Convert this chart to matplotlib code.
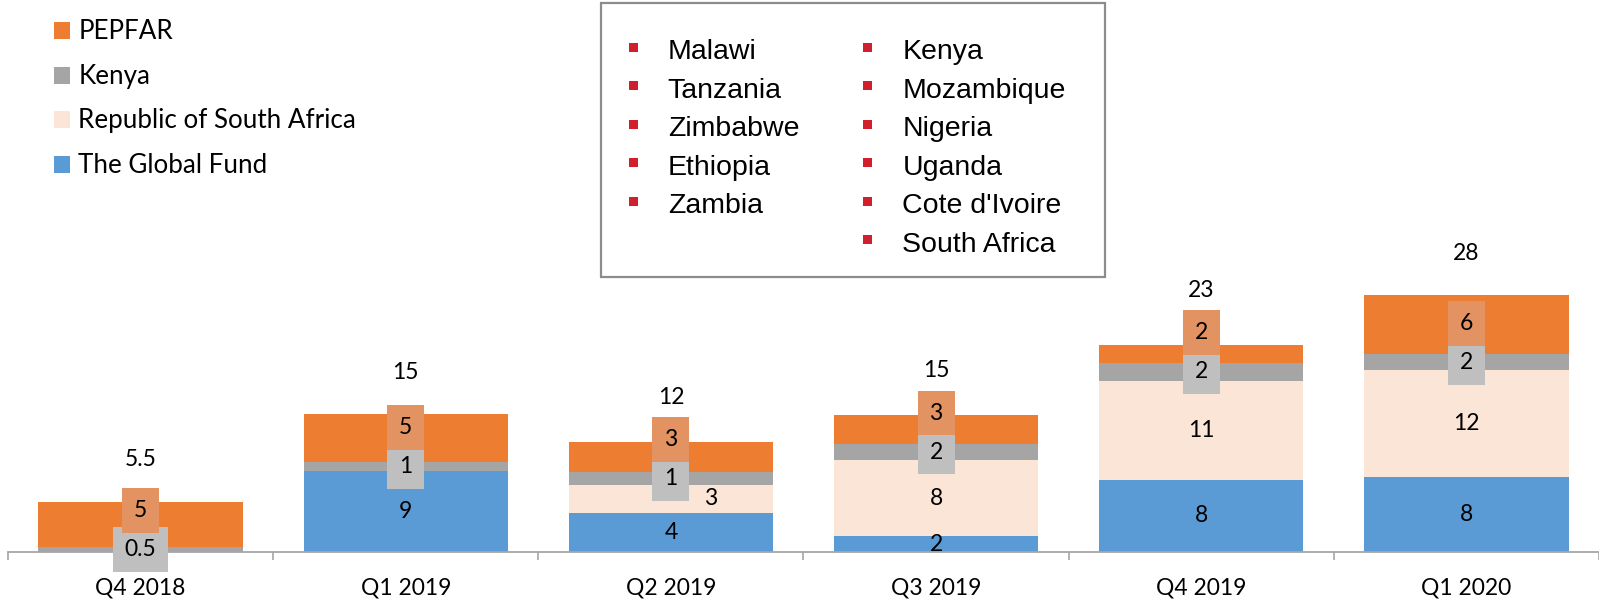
import matplotlib
matplotlib.use('Agg')
import matplotlib.pyplot as plt
from matplotlib.patches import Rectangle
import numpy as np

# ---------------- data ----------------
quarters = ['Q4 2018', 'Q1 2019', 'Q2 2019', 'Q3 2019', 'Q4 2019', 'Q1 2020']
global_fund = [0, 8.8, 4.3, 1.7, 7.9, 8.2]
south_africa = [0, 0, 3.0, 8.3, 10.8, 11.6]
kenya = [0.5, 1.0, 1.4, 1.8, 1.9, 1.8]
pepfar = [5.0, 5.2, 3.3, 3.1, 2.0, 6.4]
series_names = ['The Global Fund', 'Republic of South Africa', 'Kenya', 'PEPFAR']
series_colors = ['#5B9BD5', '#FBE5D6', '#A5A5A5', '#ED7D31']
countries_col1 = ['Malawi', 'Tanzania', 'Zimbabwe', 'Ethiopia', 'Zambia']
countries_col2 = ['Kenya', 'Mozambique', 'Nigeria', 'Uganda', "Cote d'Ivoire", 'South Africa']

# ---------------- layout ----------------
W, H = 1599, 600
fig = plt.figure(figsize=(W / 100, H / 100), dpi=100)
AX_L, AX_B, AX_T = 8, 48, 600
ax = fig.add_axes([AX_L / W, AX_B / H, (W - AX_L) / W, (AX_T - AX_B) / H])
YMAX = 60.2
ax.set_ylim(0, YMAX)
ax.set_xlim(-0.5, len(quarters) - 0.5)
U = (AX_T - AX_B) / YMAX  # px per data unit

FONT = 'Lato'
FS = 16.5

x = np.arange(len(quarters))
series = [global_fund, south_africa, kenya, pepfar]
bottom = np.zeros(len(x))
for vals, c in zip(series, series_colors):
    ax.bar(x, vals, 0.77, bottom=bottom, color=c, edgecolor='none', zorder=2)
    bottom = bottom + np.array(vals, dtype=float)
totals = bottom


def fmt(v):
    return f"{v:.1f}" if v < 1 else f"{v:.0f}"


def fmt_total(t):
    return f"{t:.1f}" if t < 10 else f"{t:.0f}"


box_h = 41 / U
tkw = dict(ha='center', va='center', fontsize=FS, family=FONT, color='black', zorder=5)
for i in range(len(quarters)):
    gf, sa, ke, pe = global_fund[i], south_africa[i], kenya[i], pepfar[i]
    if gf > 0:
        ax.text(i, gf / 2, fmt(gf), **tkw)
    ke_y = gf + sa + ke / 2
    if sa > 0:
        sa_y = gf + sa / 2
        dx = 0.15 if abs(sa_y - ke_y) < (20 + 12) / U else 0
        ax.text(i + dx, sa_y, fmt(sa), **tkw)
    ax.text(i, ke_y, fmt(ke), bbox=dict(boxstyle='square,pad=0.52', fc='#BFBFBF', ec='none'), **tkw)
    pe_y = max(gf + sa + ke + pe / 2, ke_y + 39 / U)
    ax.text(i, pe_y, fmt(pe), bbox=dict(boxstyle='square,pad=0.52', fc='#E39262', ec='none'), **tkw)
    tot_y = max(totals[i] + 42 / U, pe_y + box_h / 2 + 22 / U)
    ax.text(i, tot_y, fmt_total(totals[i]), **tkw)

for s in ['left', 'right', 'top']:
    ax.spines[s].set_visible(False)
ax.spines['bottom'].set_color('#A6A6A6')
ax.spines['bottom'].set_linewidth(1.3)
ax.set_yticks([])
ax.set_xticks(x)
ax.set_xticklabels(quarters, fontsize=FS, family=FONT)
ax.tick_params(axis='x', which='major', length=0, pad=18)
ax.set_xticks(np.arange(-0.5, len(quarters)), minor=True)
ax.tick_params(axis='x', which='minor', length=6, width=1.2, color='#A6A6A6', direction='out')


def fy(ypx):
    return 1 - ypx / H


# ---------------- left legend ----------------
leg_baselines = [39.3, 83.8, 128.3, 172.8]
for k, idx in enumerate([3, 2, 1, 0]):
    b = leg_baselines[k]
    fig.add_artist(Rectangle((54 / W, fy(b)), 16 / W, 17 / H, transform=fig.transFigure,
                             fc=series_colors[idx], ec='none'))
    fig.text(78.5 / W, fy(b), series_names[idx], fontsize=18.7, family=FONT, va='baseline', ha='left')

# ---------------- country box ----------------
fig.add_artist(Rectangle((601 / W, fy(277)), (1105 - 601) / W, (277 - 3) / H, transform=fig.transFigure,
                         fc='white', ec='#8C8C8C', lw=1.6))
row_base = 59.3
row_step = 38.5
for col, (names, bx, tx) in enumerate([(countries_col1, 633.5, 667.7), (countries_col2, 867.5, 902.3)]):
    for r, name in enumerate(names):
        b = row_base + r * row_step
        cy = b - 12
        fig.add_artist(Rectangle(((bx - 4.5) / W, fy(cy + 4.5)), 9 / W, 9 / H, transform=fig.transFigure,
                                 fc='#D0202E', ec='none'))
        fig.text(tx / W, fy(b), name, fontsize=20.5, family='Liberation Sans', va='baseline', ha='left')

fig.savefig('out.png', dpi=100)
